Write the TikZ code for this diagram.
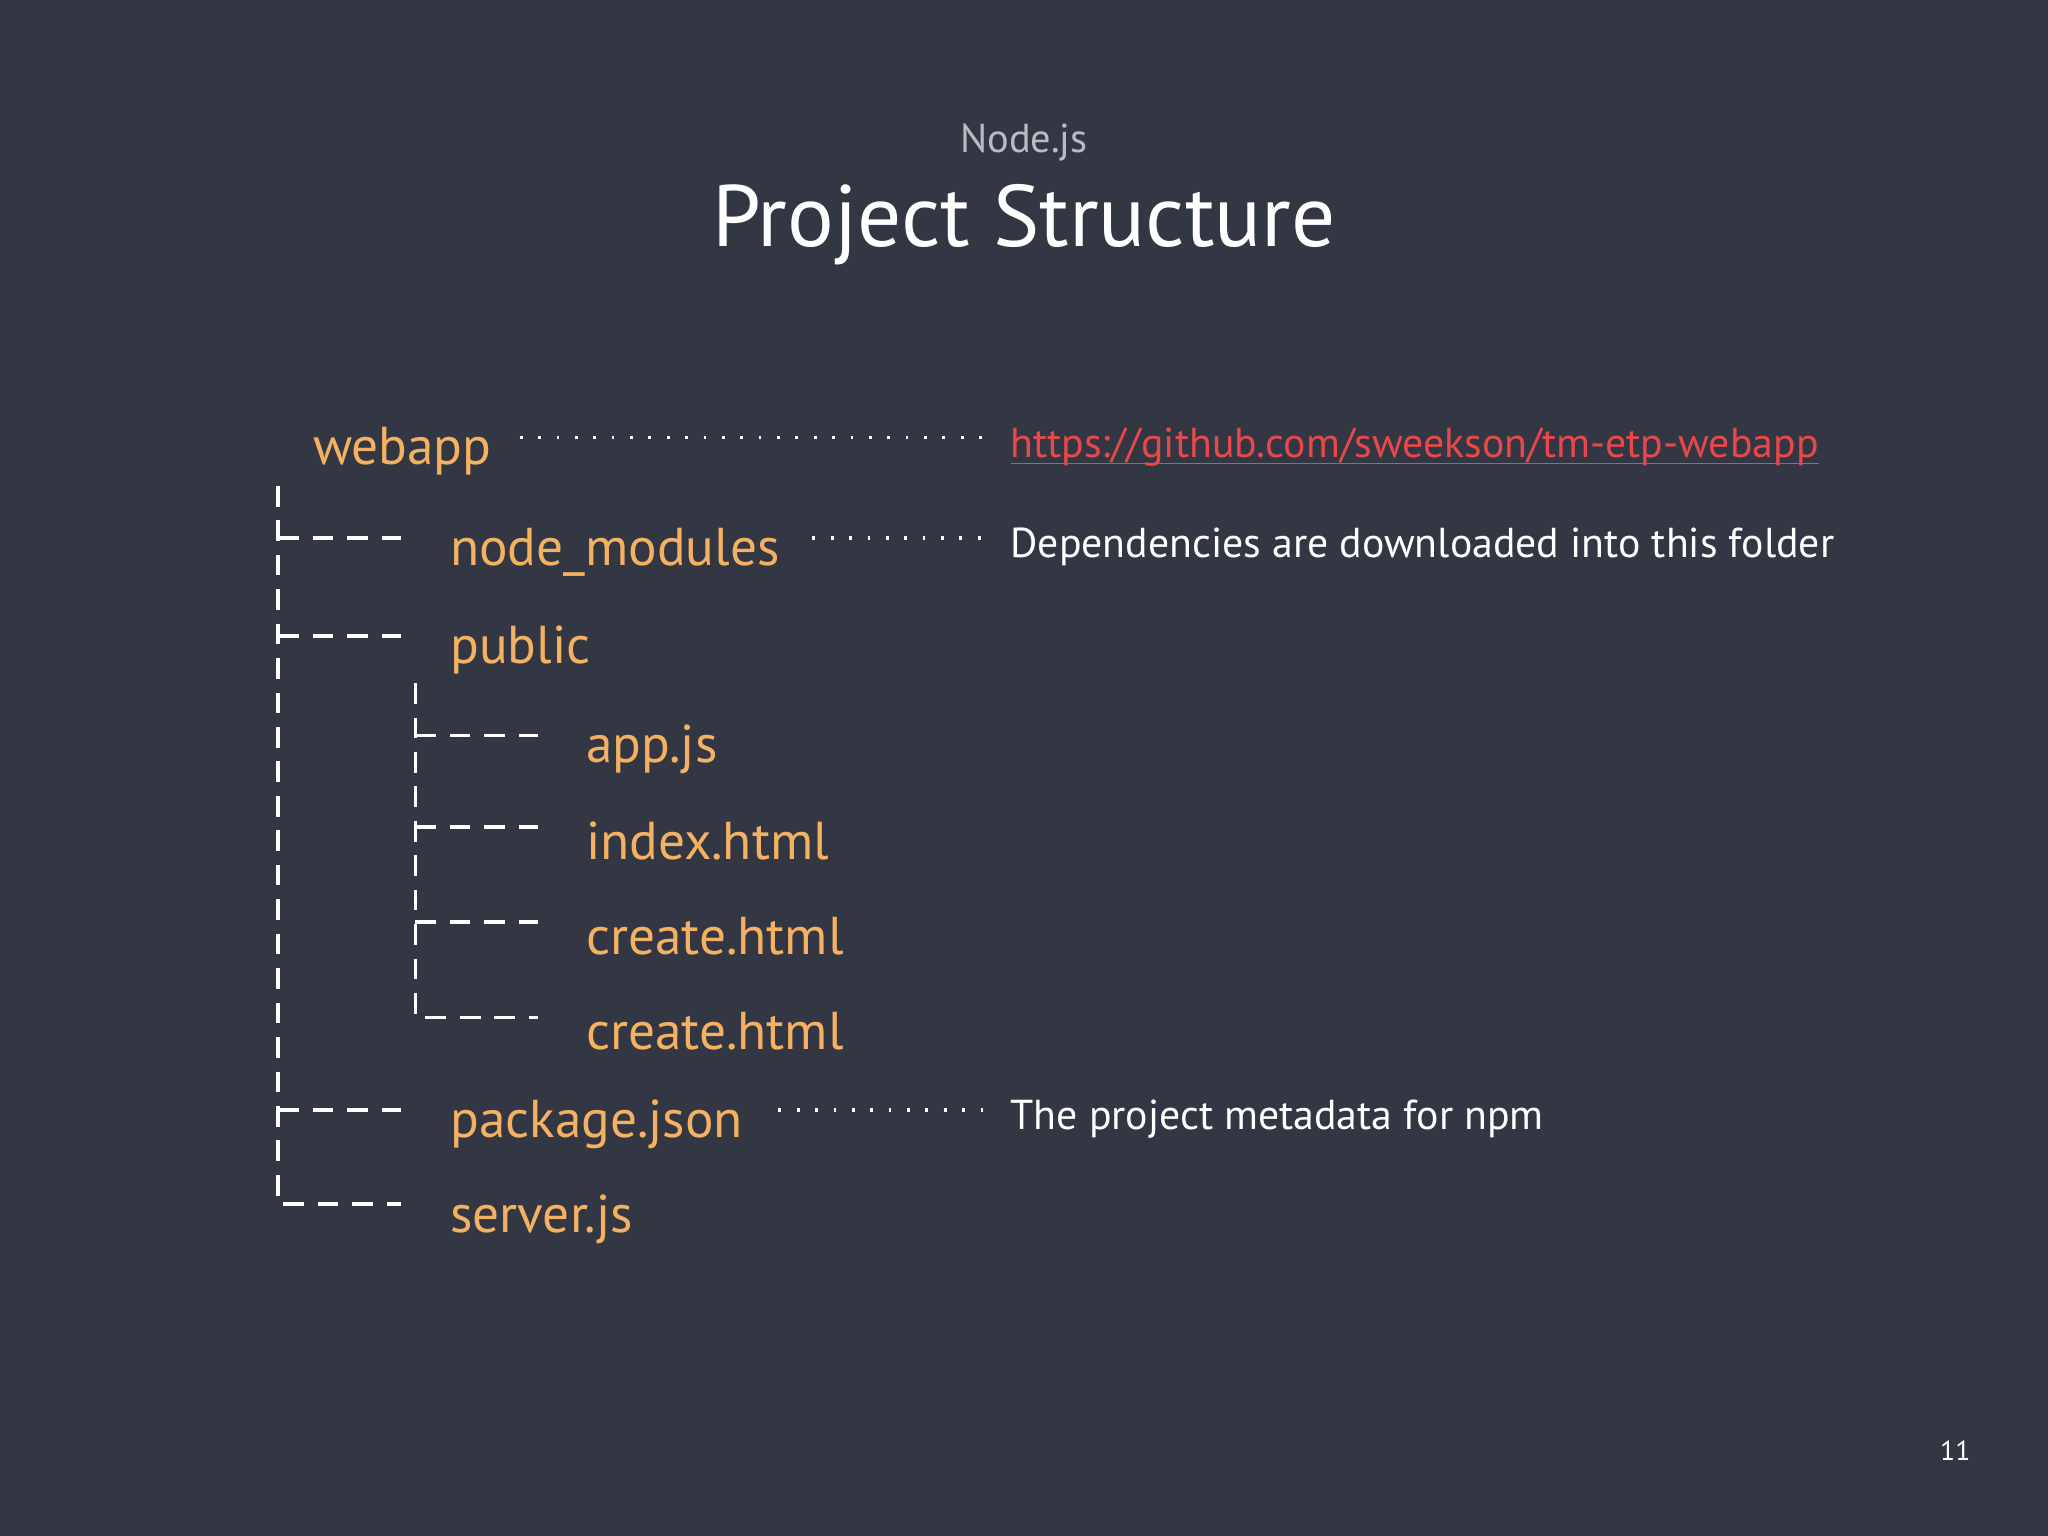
\documentclass[tikz,border=0pt]{standalone}
\usepackage{fontspec}
\setmainfont{PT Sans}
\definecolor{bg}{HTML}{323743}
\definecolor{folder}{HTML}{F4B161}
\definecolor{linkred}{HTML}{E8484A}
\definecolor{subgray}{HTML}{B8BBC2}
\begin{document}
\begin{tikzpicture}[x=0.01cm, y=-0.01cm,
    item/.style = {anchor = west, text = folder, font = \fontsize{11.6pt}{13pt}\selectfont, inner sep = 0pt, yshift = -3},
    note/.style = {anchor = west, text = white, font = \fontsize{9.1pt}{11pt}\selectfont, inner sep = 0pt, yshift = -2},
    tree/.style = {white, line width = 0.8pt, dash pattern = on 4.5pt off 3pt},
    leader/.style = {white, line width = 0.8pt, dash pattern = on 0.6pt off 3.4pt}]
  \fill[bg] (0, 0) rectangle (1568, 1176);

  \node[text = subgray, font = \fontsize{8.8pt}{10pt}\selectfont] (sub) at (784, 109) {Node.js};
  \node[text = white, font = \fontsize{19pt}{23pt}\selectfont] (title) at (784, 172) {Project Structure};

  \node[item] (webapp) at (239, 335) {webapp};
  \node[item] (modules) at (344, 412) {node\_modules};
  \node[item] (public) at (344, 487) {public};
  \node[item] (appjs) at (448, 563) {app.js};
  \node[item] (index) at (448, 633) {index.html};
  \node[item] (createa) at (448, 706) {create.html};
  \node[item] (createb) at (448, 779) {create.html};
  \node[item] (package) at (344, 850) {package.json};
  \node[item] (server) at (344, 923) {server.js};

  \node[note, text = linkred] (repo) at (773, 335) {\underbar{https://github.com/sweekson/tm-etp-webapp}};
  \node[note] (deps) at (773, 412) {Dependencies are downloaded into this folder};
  \node[note] (meta) at (773, 850) {The project metadata for npm};

  \node[text = white, font = \fontsize{6pt}{7pt}\selectfont] (page) at (1497, 1111) {11};

  % leaders
  \draw[leader] (398, 335) -- (755, 335);
  \draw[leader] (622, 412) -- (755, 412);
  \draw[leader] (596, 850) -- (755, 850);

  % tree
  \coordinate (root) at (213, 372);
  \coordinate (pub) at (318, 523);
  \draw[tree] (root) -- (213, 922) -- (307, 922);
  \foreach \y in {412, 487, 850}
    \draw[tree] (213, \y) -- (307, \y);
  \draw[tree] (pub) -- (318, 779) -- (412, 779);
  \foreach \y in {563, 633, 706}
    \draw[tree] (318, \y) -- (412, \y);
\end{tikzpicture}
\end{document}
